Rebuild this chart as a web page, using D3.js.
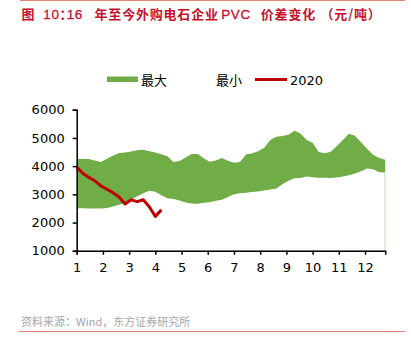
<!DOCTYPE html>
<html><head><meta charset="utf-8">
<script src="https://cdn.jsdelivr.net/npm/d3@7"></script>
<style>
html,body{margin:0;padding:0;background:#fff;}
svg{display:block;}
</style>
</head><body>
<script>
// weekly data (52 weeks), x position = month 1 + week*12/52
const weeks = d3.range(52);
const maxValues = [4250,4250,4250,4200,4150,4260,4370,4470,4480,4520,4560,4580,4530,4480,4420,4350,4150,4180,4310,4430,4430,4280,4160,4200,4290,4190,4120,4150,4410,4460,4530,4650,4930,5040,5070,5110,5250,5160,4930,4830,4500,4460,4510,4710,4930,5150,5080,4850,4620,4400,4290,4230];
const minValues = [2510,2505,2500,2500,2500,2520,2570,2630,2690,2820,2930,3040,3130,3090,2970,2860,2840,2780,2710,2680,2670,2700,2720,2770,2810,2910,3000,3040,3060,3080,3100,3140,3170,3210,3360,3480,3570,3580,3630,3610,3590,3590,3580,3600,3630,3680,3740,3820,3920,3890,3780,3775];
const values2020 = [3970,3750,3600,3480,3300,3180,3060,2910,2660,2810,2740,2810,2560,2220,2450];
const monthTicks = [1,2,3,4,5,6,7,8,9,10,11,12];
const yTicks = [1000,2000,3000,4000,5000,6000];
const seriesNames = ["最大","最小","2020"];
const titleParts = [
  {t:"图", dx:0, cjk:true, ls:0.8},
  {t:"10", dx:8, cjk:false, ls:0.6},
  {t:"：", dx:0, cjk:true, ls:-6.3},
  {t:"16", dx:0.5, cjk:false, ls:0.6},
  {t:"年至今外购电石企业", dx:11.6, cjk:true, ls:0.8},
  {t:"PVC", dx:2.5, cjk:false, ls:0.6},
  {t:"价差变化", dx:10, cjk:true, ls:0.8},
  {t:"（", dx:4.5, cjk:true, ls:0.8},
  {t:"元/吨", dx:0, cjk:true, ls:0.8},
  {t:"）", dx:0, cjk:true, ls:0.8}
];
const sourceText = "资料来源：Wind，东方证券研究所";

const W = 411, H = 350;
const svg = d3.select("body").append("svg").attr("width", W).attr("height", H);
const font = "'DejaVu Sans', Verdana, sans-serif";
const cjk = "'Noto Sans CJK SC', 'DejaVu Sans', sans-serif";
const latin = "'Liberation Sans', Arial, sans-serif";

const x = d3.scaleLinear().domain([1, 1 + 51 * 12 / 52]).range([76.7, 385.2]);
const y = d3.scaleLinear().domain([1000, 6000]).range([250.8, 109.7]);
const wx = i => x(1 + i * 12 / 52);

// header / footer rules
svg.append("line").attr("x1", 20).attr("x2", 405).attr("y1", 0.5).attr("y2", 0.5)
  .attr("stroke", "#e8837a").attr("stroke-width", 1);
svg.append("line").attr("x1", 19).attr("x2", 405).attr("y1", 331.5).attr("y2", 331.5)
  .attr("stroke", "#e8837a").attr("stroke-width", 1);

const title = svg.append("text").attr("x", 21.5).attr("y", 19).attr("fill", "#c8102e");
titleParts.forEach(p => {
  title.append("tspan").attr("dx", p.dx)
    .attr("font-family", p.cjk ? cjk : latin)
    .attr("font-size", p.cjk ? 13 : 13.5)
    .attr("font-weight", p.cjk ? "bold" : "normal")
    .attr("letter-spacing", p.ls)
    .attr("stroke", p.cjk ? "none" : "#c8102e").attr("stroke-width", p.cjk ? 0 : 0.3)
    .text(p.t);
});

svg.append("text").attr("x", 21).attr("y", 325.5)
  .attr("font-family", cjk).attr("font-size", 11)
  .attr("fill", "#a6a6a6").text(sourceText);

// band: green area from baseline to max, then white area from baseline to min
const areaMax = d3.area().x((d, i) => wx(i)).y0(y(1000)).y1(d => y(d));
const areaMin = d3.area().x((d, i) => wx(i)).y0(y(1000)).y1(d => y(d));
svg.append("path").attr("d", areaMax(maxValues)).attr("fill", "#70ad47");
svg.append("path").attr("d", areaMin(minValues)).attr("fill", "#ffffff");
// faint edge at right end
svg.append("line").attr("x1", wx(51) - 0.5).attr("x2", wx(51) - 0.5)
  .attr("y1", y(minValues[51])).attr("y2", y(1000))
  .attr("stroke", "#d6e9cb").attr("stroke-width", 1);

// 2020 line
const line = d3.line().x((d, i) => wx(i)).y(d => y(d));
svg.append("path").attr("d", line(values2020)).attr("fill", "none")
  .attr("stroke", "#c00000").attr("stroke-width", 3).attr("stroke-linejoin", "round");

// axes
const yAxis = d3.axisLeft(y).tickValues(yTicks).tickSize(4).tickPadding(8).tickFormat(d3.format("d"));
const gy = svg.append("g").attr("transform", `translate(${x(1)},0)`).call(yAxis);
gy.select(".domain").attr("stroke", "#000").attr("stroke-width", 1.5);
gy.selectAll(".tick line").attr("stroke", "#000").attr("stroke-width", 1.5);
gy.selectAll("text").attr("font-family", font).attr("font-size", 13).attr("fill", "#000");

const xAxis = d3.axisBottom(x).tickValues(monthTicks).tickSize(4).tickPadding(8).tickFormat(d3.format("d"));
const gx = svg.append("g").attr("transform", `translate(0,${y(1000)})`).call(xAxis);
gx.select(".domain").attr("stroke", "#000").attr("stroke-width", 1.5);
gx.selectAll(".tick line").attr("stroke", "#000").attr("stroke-width", 1.5);
gx.selectAll("text").attr("font-family", font).attr("font-size", 13).attr("fill", "#000");

// legend
const lg = svg.append("g");
lg.append("rect").attr("x", 107).attr("y", 76.5).attr("width", 31).attr("height", 5.5).attr("fill", "#70ad47");
lg.append("text").attr("x", 141).attr("y", 84.5).attr("font-family", cjk).attr("font-size", 13).attr("fill", "#000").text(seriesNames[0]);
lg.append("text").attr("x", 216).attr("y", 84.5).attr("font-family", cjk).attr("font-size", 13).attr("fill", "#000").text(seriesNames[1]);
lg.append("line").attr("x1", 255).attr("x2", 287).attr("y1", 79.5).attr("y2", 79.5).attr("stroke", "#c00000").attr("stroke-width", 3);
lg.append("text").attr("x", 290).attr("y", 84.5).attr("font-family", font).attr("font-size", 13).attr("fill", "#000").text(seriesNames[2]);
</script>
</body></html>
